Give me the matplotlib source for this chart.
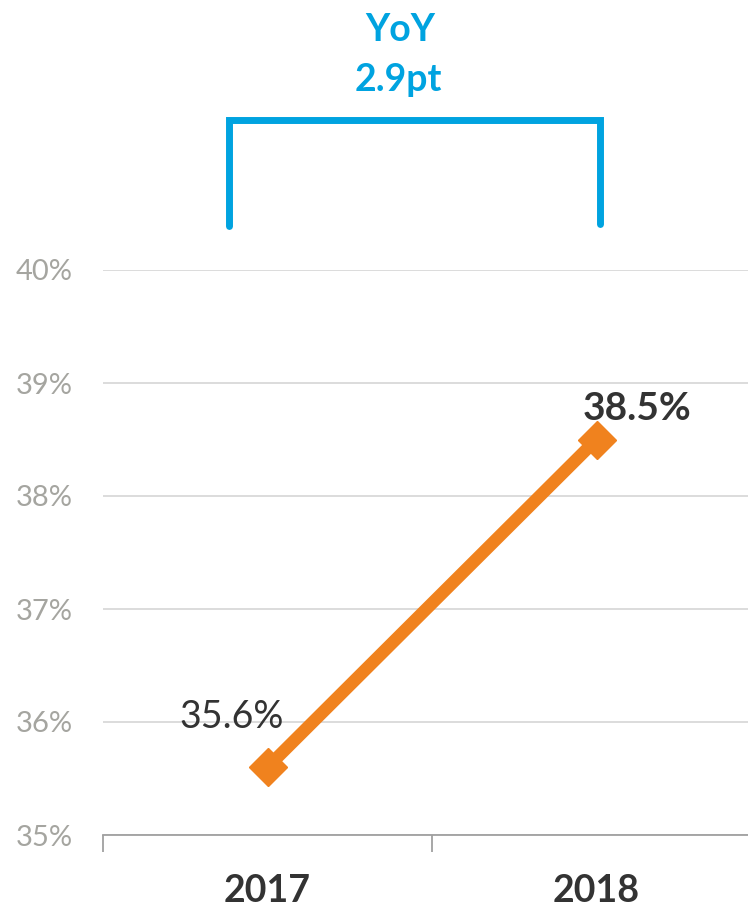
import matplotlib.pyplot as plt
from matplotlib.lines import Line2D

years = ['2017', '2018']
ratio = [35.6, 38.5]
yticks = [35, 36, 37, 38, 39, 40]

orange = '#F0821E'
blue = '#00A3E0'
dark = '#333333'
grey = '#A5A5A0'

plt.rcParams['font.family'] = ['Lato', 'DejaVu Sans']

fig = plt.figure(figsize=(7.48, 9.07), dpi=100)
ax = fig.add_axes([103/748, 72/907, 658/748, 565/907])

x = list(range(len(years)))
ax.plot(x, ratio, color=orange, lw=9, marker='D', ms=19, solid_capstyle='butt', zorder=3)

ax.set_xlim(-0.5, 1.5)
ax.set_ylim(35, 40)
ax.set_yticks(yticks)
ax.set_yticklabels([f'{v}%' for v in yticks], color=grey, fontsize=21)
ax.yaxis.grid(True, color='#D9D9D9', lw=1.3)
ax.set_axisbelow(True)
ax.tick_params(axis='y', length=0, pad=22)

# category labels between band ticks
ax.set_xticks([-0.5, 0.5, 1.5])
ax.set_xticklabels([])
ax.tick_params(axis='x', length=12, color='#A0A0A0', width=1.3)
for xi, yr in zip(x, years):
    ax.text(xi, -0.1, yr, transform=ax.get_xaxis_transform(), ha='center', va='center',
            fontsize=27, fontweight='bold', color=dark)

for s in ['top', 'right', 'left']:
    ax.spines[s].set_visible(False)
ax.spines['bottom'].set_color('#A0A0A0')
ax.spines['bottom'].set_linewidth(1.3)

ax.annotate(f'{ratio[0]:.1f}%', (x[0], ratio[0]), xytext=(-26, 36), textcoords='offset points',
            ha='center', va='center', fontsize=27, color=dark)
ax.annotate(f'{ratio[1]:.1f}%', (x[1], ratio[1]), xytext=(29, 22), textcoords='offset points',
            ha='center', va='center', fontsize=28, fontweight='bold', color=dark)

# YoY bracket
W, H = 748, 907
bx = [229/W, 229/W, 600/W, 600/W]
by = [1 - 226/H, 1 - 120/H, 1 - 120/H, 1 - 224/H]
fig.add_artist(Line2D(bx, by, color=blue, lw=5, solid_joinstyle='miter', solid_capstyle='round'))
diff = ratio[1] - ratio[0]
fig.text(400/W, 1 - 30/H, 'YoY', ha='center', va='center', fontsize=27, fontweight='bold', color=blue)
fig.text(398/W, 1 - 80/H, f'{diff:.1f}pt', ha='center', va='center', fontsize=27, fontweight='bold', color=blue)

fig.savefig('out.png', dpi=100)
